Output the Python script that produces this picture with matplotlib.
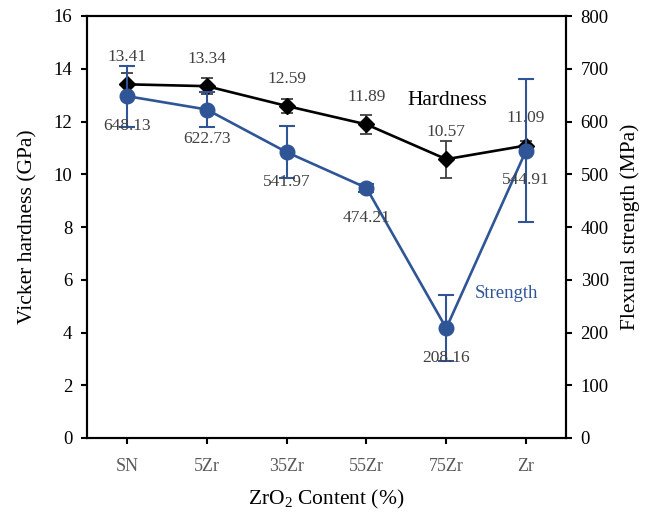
import matplotlib.pyplot as plt
import numpy as np

plt.rcParams['font.family'] = ['Liberation Serif', 'DejaVu Serif']
plt.rcParams['mathtext.fontset'] = 'custom'
plt.rcParams['mathtext.rm'] = 'Liberation Serif'

groups = ['SN', '5Zr', '35Zr', '55Zr', '75Zr', 'Zr']
hardness = [13.41, 13.34, 12.59, 11.89, 10.57, 11.09]
hardness_err = [0.42, 0.30, 0.27, 0.37, 0.70, 0.18]
strength = [648.13, 622.73, 541.97, 474.21, 208.16, 544.91]
strength_err = [58, 33, 50, 8, 62, 135]

blue = '#2F5597'
grey = '#404040'
x = np.arange(len(groups))

fig = plt.figure(figsize=(6.57, 5.15), dpi=100)
ax1 = fig.add_axes([87/657, 77/515, 479/657, 422/515])
ax2 = ax1.twinx()

ax1.errorbar(x, hardness, yerr=hardness_err, color='black', lw=1.9, marker='D',
             ms=8.5, ecolor='#404040', elinewidth=1.3, capsize=4.5, capthick=1.3)
ax2.errorbar(x, strength, yerr=strength_err, color=blue, lw=1.9, marker='o',
             ms=10.5, ecolor=blue, elinewidth=1.5, capsize=6, capthick=1.5)

for i, v in enumerate(hardness):
    ax1.annotate(f'{v:.2f}', (x[i], v), xytext=(0, 19.5), textcoords='offset points',
                 ha='center', va='center', fontsize=12.5, color=grey)
for i, v in enumerate(strength):
    ax2.annotate(f'{v:.2f}', (x[i], v), xytext=(0, -21.5), textcoords='offset points',
                 ha='center', va='center', fontsize=12.5, color=grey)

ax1.text(4.01, 12.8, 'Hardness', fontsize=15.5, color='black', ha='center', va='center')
ax2.text(4.76, 273, 'Strength', fontsize=13.5, color=blue, ha='center', va='center')

ax1.set_xlim(-0.5, 5.5)
ax1.set_ylim(0, 16)
ax1.set_yticks(np.arange(0, 17, 2))
ax2.set_ylim(0, 800)
ax2.set_yticks(np.arange(0, 801, 100))
ax1.set_xticks(x)
ax1.set_xticklabels(groups, color='#595959')

for ax in (ax1, ax2):
    for s in ax.spines.values():
        s.set_linewidth(1.5)
    ax.tick_params(width=1.5, length=4.5, labelsize=13.5, direction='out', pad=6)
ax1.tick_params(axis='x', pad=10, labelsize=13)

ax1.set_ylabel('Vicker hardness (GPa)', fontsize=15.5, labelpad=12)
ax2.set_ylabel('Flexural strength (MPa)', fontsize=15.5, labelpad=8)
ax1.set_xlabel('ZrO$_2$ Content (%)', fontsize=15.5, labelpad=9)

fig.savefig('out.png', dpi=100)
